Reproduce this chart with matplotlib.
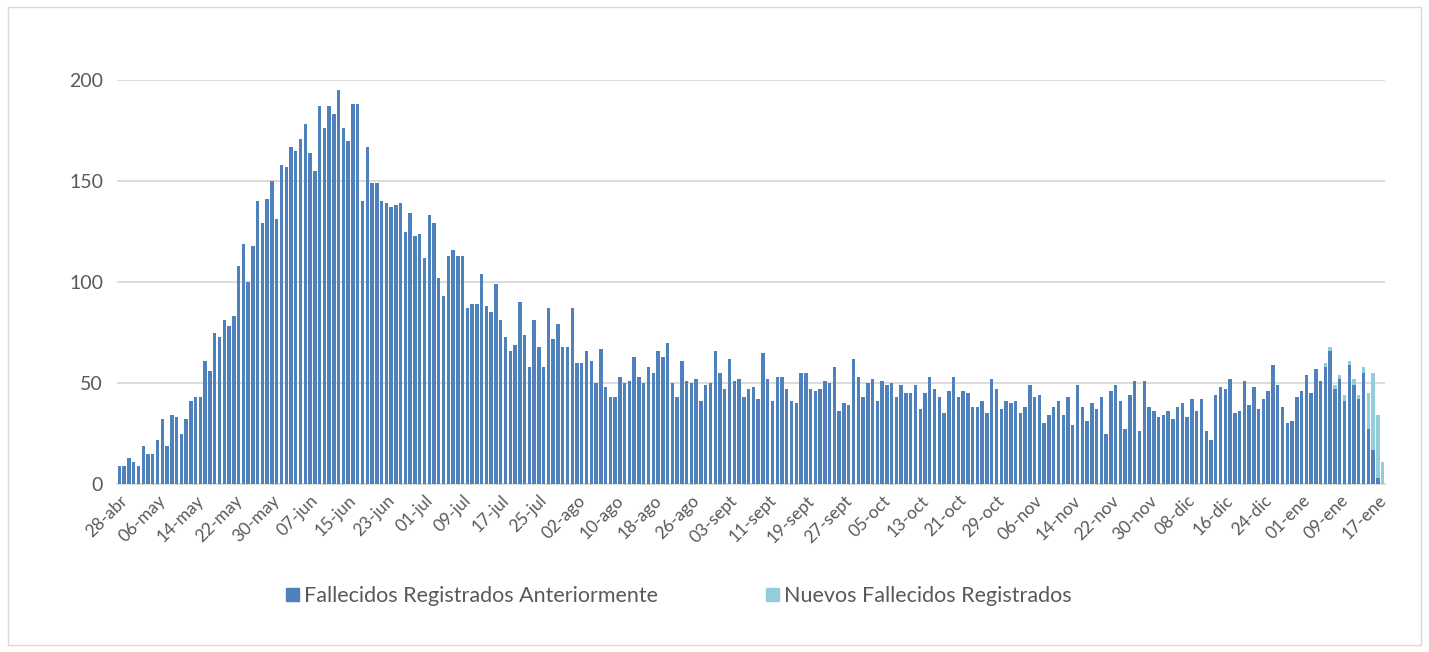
import matplotlib.pyplot as plt
import matplotlib.patches as mpatches
import pandas as pd

plt.rcParams['font.family'] = ['Lato', 'DejaVu Sans']

# Fallecidos diarios, 28-abr-2020 a 18-ene-2021
anteriores = [
    9, 9, 13, 11, 9, 19, 15, 15, 22, 32, 19, 34, 33, 25, 32, 41, 43, 43, 61, 56, 75, 73,
    81, 78, 83, 108, 119, 100, 118, 140, 129, 141, 150, 131, 158, 157, 167, 165, 171, 178, 164, 155,
    187, 176, 187, 183, 195, 176, 170, 188, 188, 140, 167, 149, 149, 140, 139, 137, 138, 139, 125, 134, 123, 124,
    112, 133, 129, 102, 93, 113, 116, 113, 113, 87, 89, 89, 104, 88, 85, 99, 81, 73, 66, 69, 90, 74, 58, 81,
    68, 58, 87, 72, 79, 68, 68, 87, 60, 60, 66, 61, 50, 67, 48, 43, 43, 53, 50, 51, 63, 53,
    50, 58, 55, 66, 63, 70, 50, 43, 61, 51, 50, 52, 41, 49, 50, 66, 55, 47, 62, 51, 52, 43,
    47, 48, 42, 65, 52, 41, 53, 53, 47, 41, 40, 55, 55, 47, 46, 47, 51, 50, 58, 36, 40, 39,
    62, 53, 43, 50, 52, 41, 51, 49, 50, 43, 49, 45, 45, 49, 37, 45, 53, 47, 43, 35, 46, 53,
    43, 46, 45, 38, 38, 41, 35, 52, 47, 37, 41, 40, 41, 35, 38, 49, 43, 44, 30, 34, 38, 41,
    34, 43, 29, 49, 38, 31, 40, 37, 43, 25, 46, 49, 41, 27, 44, 51, 26, 51, 38, 36, 33, 34,
    36, 32, 38, 40, 33, 42, 36, 42, 26, 22, 44, 48, 47, 52, 35, 36, 51, 39, 48, 37, 42, 46,
    59, 49, 38, 30, 31, 43, 46, 54, 45, 57, 51,
    58, 66, 47, 52, 41, 59, 49, 42, 55, 27, 17, 3, 0,
]
nuevos = [0] * 253 + [2, 2, 2, 2, 3, 2, 3, 2, 3, 18, 38, 31, 11]

meses = {4: 'abr', 5: 'may', 6: 'jun', 7: 'jul', 8: 'ago', 9: 'sept',
         10: 'oct', 11: 'nov', 12: 'dic', 1: 'ene'}
fechas = pd.date_range('2020-04-28', periods=len(anteriores), freq='D')
etiquetas = [f"{d.day:02d}-{meses[d.month]}" for d in fechas]

azul = '#4F81BD'
celeste = '#92CDDC'
gris = '#595959'

fig = plt.figure(figsize=(14.29, 6.52), dpi=100)
ax = fig.add_axes([117 / 1429, 1 - 484 / 652, (1385 - 117) / 1429, (484 - 80) / 652])

x = list(range(len(anteriores)))
ax.bar(x, anteriores, width=0.72, color=azul, zorder=3)
ax.bar(x, nuevos, width=0.72, bottom=anteriores, color=celeste, zorder=3)

ax.set_xlim(-0.5, len(anteriores) - 0.5)
ax.set_ylim(0, 200)
ax.set_yticks([0, 50, 100, 150, 200])
ax.grid(axis='y', color='#D9D9D9', linewidth=1.3, zorder=0)
ax.set_axisbelow(True)
for s in ['top', 'right', 'left']:
    ax.spines[s].set_visible(False)
ax.spines['bottom'].set_color('#D9D9D9')
ax.spines['bottom'].set_linewidth(1.3)

pos = x[::8]
ax.set_xticks(pos)
ax.set_xticklabels([etiquetas[i] for i in pos], rotation=45, ha='right',
                   rotation_mode='anchor', fontsize=12.5, color=gris)
ax.tick_params(axis='x', length=0, pad=6)
ax.tick_params(axis='y', length=0, pad=10, labelsize=14, labelcolor=gris)

h1 = mpatches.Patch(color=azul)
h2 = mpatches.Patch(color=celeste)
fig.legend([h1, h2], ['Fallecidos Registrados Anteriormente', 'Nuevos Fallecidos Registrados'],
           loc='center', bbox_to_anchor=(679 / 1429, 1 - 596 / 652), ncol=2, frameon=False,
           fontsize=15.5, handlelength=0.6, handleheight=0.6, handletextpad=0.25,
           columnspacing=5.0, labelcolor=gris)

fig.add_artist(mpatches.Rectangle((8 / 1429, 7 / 652), 1413 / 1429, 638 / 652,
                                  transform=fig.transFigure, fill=False,
                                  edgecolor='#D9D9D9', linewidth=1))

fig.savefig('out.png', dpi=100)
